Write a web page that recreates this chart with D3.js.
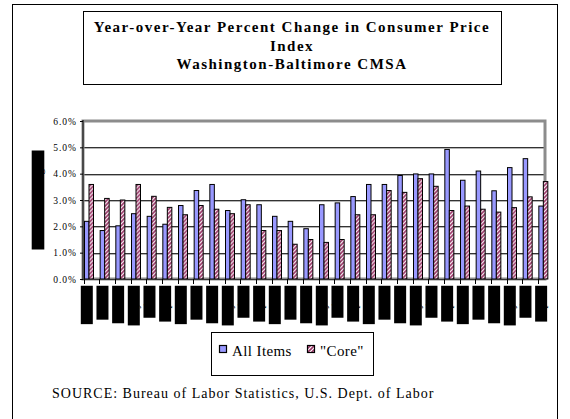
<!DOCTYPE html>
<html lang="en">
<head>
<meta charset="UTF-8" />
<title>Year-over-Year Percent Change in CPI</title>
<script src="https://d3js.org/d3.v7.min.js"></script>
<style>
  body { margin: 0; background: #fff; }
  svg { display: block; font-family: "Liberation Serif", "Times New Roman", serif; }
</style>
</head>
<body>
<svg width="570" height="419"></svg>
<script>
// period labels are blacked out in the reference, bimonthly months stand in for them
const categories = [
  "Nov-97", "Jan-98", "Mar-98", "May-98", "Jul-98", "Sep-98",
  "Nov-98", "Jan-99", "Mar-99", "May-99", "Jul-99", "Sep-99",
  "Nov-99", "Jan-00", "Mar-00", "May-00", "Jul-00", "Sep-00",
  "Nov-00", "Jan-01", "Mar-01", "May-01", "Jul-01", "Sep-01",
  "Nov-01", "Jan-02", "Mar-02", "May-02", "Jul-02", "Sep-02"
];
const allItems = [
  2.19, 1.84, 2.02, 2.48, 2.38, 2.08, 2.79, 3.36, 3.59, 2.60,
  3.01, 2.82, 2.38, 2.19, 1.91, 2.82, 2.89, 3.13, 3.59, 3.59,
  3.93, 3.99, 3.99, 4.92, 3.75, 4.10, 3.35, 4.23, 4.57, 2.77
];
const core = [
  3.59, 3.06, 3.00, 3.59, 3.14, 2.72, 2.44, 2.79, 2.65, 2.48,
  2.82, 1.84, 1.84, 1.32, 1.50, 1.39, 1.50, 2.44, 2.44, 3.36,
  3.29, 3.81, 3.52, 2.60, 2.77, 2.65, 2.54, 2.71, 3.12, 3.70
];
const series = ["All Items", "\"Core\""];
const yTicks = [0, 1, 2, 3, 4, 5, 6];

const svg = d3.select("svg");

// hatch for the "Core" bars
const defs = svg.append("defs");
const pat = defs.append("pattern")
    .attr("id", "hatch")
    .attr("patternUnits", "userSpaceOnUse")
    .attr("width", 4).attr("height", 4);
pat.append("rect").attr("width", 4).attr("height", 4).attr("fill", "#fff");
pat.append("path")
    .attr("d", "M-1,1 l2,-2 M0,4 l4,-4 M3,5 l2,-2")
    .attr("stroke", "#993366").attr("stroke-width", 1.6);

// outer chart frame
svg.append("rect")
    .attr("x", 12.5).attr("y", 4.5).attr("width", 545).attr("height", 420)
    .attr("fill", "none").attr("stroke", "#000");

// title box
svg.append("rect")
    .attr("x", 83.5).attr("y", 11.5).attr("width", 418).attr("height", 73)
    .attr("fill", "#fff").attr("stroke", "#000");
const titleLines = ["Year-over-Year Percent Change in Consumer Price", "Index", "Washington-Baltimore CMSA"];
svg.append("g")
  .selectAll("text")
  .data(titleLines)
  .join("text")
    .attr("x", 292)
    .attr("y", (d, i) => 32 + i * 18.5)
    .attr("text-anchor", "middle")
    .attr("font-weight", "bold")
    .attr("font-size", 15)
    .attr("letter-spacing", 1.5)
    .text(d => d);

const x = d3.scaleBand().domain(categories).range([83.5, 553.5]);
const xs = d3.scaleBand().domain(series).range([1, 10]);
const y = d3.scaleLinear().domain([0, 6]).range([279, 121]);

const left = 83, right = 545;

// gridlines
const grid = svg.append("g");
yTicks.slice(1, -1).forEach(t => {
  grid.append("line")
      .attr("x1", left).attr("x2", right)
      .attr("y1", Math.round(y(t)) + 1.5).attr("y2", Math.round(y(t)) + 1.5)
      .attr("stroke", "#b4b4b4");
  grid.append("line")
      .attr("x1", left).attr("x2", right)
      .attr("y1", Math.round(y(t)) + 0.5).attr("y2", Math.round(y(t)) + 0.5)
      .attr("stroke", "#333");
});

// plot frame (grey, Excel style)
svg.append("rect")
    .attr("x", left).attr("y", y(6))
    .attr("width", right - left).attr("height", y(0) - y(6))
    .attr("fill", "none").attr("stroke", "#8c8c8c").attr("stroke-width", 3);

// bars
const groups = svg.append("g")
  .selectAll("g")
  .data(categories.map((c, i) => ({ c, v: [allItems[i], core[i]] })))
  .join("g")
    .attr("transform", d => `translate(${x(d.c)},0)`);

groups.selectAll("rect")
  .data(d => d.v.map((v, j) => ({ key: series[j], v })))
  .join("rect")
    .attr("x", d => xs(d.key))
    .attr("y", d => y(d.v))
    .attr("width", xs.bandwidth())
    .attr("height", d => y(0) - y(d.v))
    .attr("fill", d => d.key === series[0] ? "#9999ff" : "url(#hatch)")
    .attr("stroke", "#000")
    .attr("stroke-width", 1);

// axes lines
svg.append("line")
    .attr("x1", left).attr("x2", left).attr("y1", y(6) - 1).attr("y2", y(0) + 1)
    .attr("stroke", "#333").attr("stroke-width", 1.5);
svg.append("line")
    .attr("x1", left).attr("x2", right).attr("y1", y(0) + 0.5).attr("y2", y(0) + 0.5)
    .attr("stroke", "#333");

// y axis
const yAxis = svg.append("g")
    .attr("transform", `translate(${left},0)`)
    .call(d3.axisLeft(y).tickValues(yTicks).tickSize(3).tickPadding(3)
      .tickFormat(d => d.toFixed(1) + "%"));
yAxis.select(".domain").remove();
yAxis.selectAll("line").attr("stroke", "#000");
yAxis.selectAll("text")
    .attr("font-family", "Liberation Serif, serif")
    .attr("font-size", 9.5)
    .attr("letter-spacing", 1)
    .attr("fill", "#000");

// category ticks
svg.append("g")
  .selectAll("line")
  .data(categories)
  .join("line")
    .attr("x1", d => Math.round(x(d)) + 0.5).attr("x2", d => Math.round(x(d)) + 0.5)
    .attr("y1", y(0)).attr("y2", y(0) + 5)
    .attr("stroke", "#000");

// x labels: rotated, black highlight (as in the reference)
const lab = svg.append("g")
  .selectAll("g")
  .data(categories)
  .join("g")
    .attr("transform", d => `translate(${x(d) + 3.3},286) rotate(-90)`);
lab.append("text")
    .attr("x", -1.5)
    .attr("dy", "0.35em")
    .attr("text-anchor", "end")
    .attr("font-size", 11.5)
    .attr("fill", "#000")
    .text(d => d);
lab.each(function () {
  const g = d3.select(this);
  const b = g.select("text").node().getBBox();
  g.insert("rect", "text")
      .attr("x", b.x - 1.5).attr("y", -6)
      .attr("width", b.width + 3).attr("height", 12)
      .attr("fill", "#000");
});

// y axis title, also blacked out
const yt = svg.append("g").attr("transform", "translate(38,200) rotate(-90)");
yt.append("rect").attr("x", -49.5).attr("y", -6.3).attr("width", 99).attr("height", 12.6).attr("fill", "#000");
yt.append("text")
    .attr("text-anchor", "middle").attr("dy", "0.35em")
    .attr("font-size", 11.5).attr("fill", "#000")
    .text("Percent Change");

// legend
const lg = svg.append("g");
lg.append("rect")
    .attr("x", 211.5).attr("y", 332.5).attr("width", 162).attr("height", 43)
    .attr("fill", "#fff").attr("stroke", "#000");
const legX = [219, 307];
series.forEach((s, i) => {
  lg.append("rect")
      .attr("x", legX[i] + 0.5).attr("y", 345.5).attr("width", 7).attr("height", 7)
      .attr("fill", i === 0 ? "#9999ff" : "url(#hatch)")
      .attr("stroke", "#000").attr("stroke-width", 1.2);
  lg.append("text")
      .attr("x", legX[i] + 13).attr("y", 356)
      .attr("font-size", 15)
      .attr("letter-spacing", 0.4)
      .text(s);
});

// source note
svg.append("text")
    .attr("x", 52).attr("y", 398)
    .attr("font-size", 14)
    .attr("letter-spacing", 1)
    .text("SOURCE:  Bureau of Labor Statistics, U.S. Dept. of Labor");
</script>
</body>
</html>
